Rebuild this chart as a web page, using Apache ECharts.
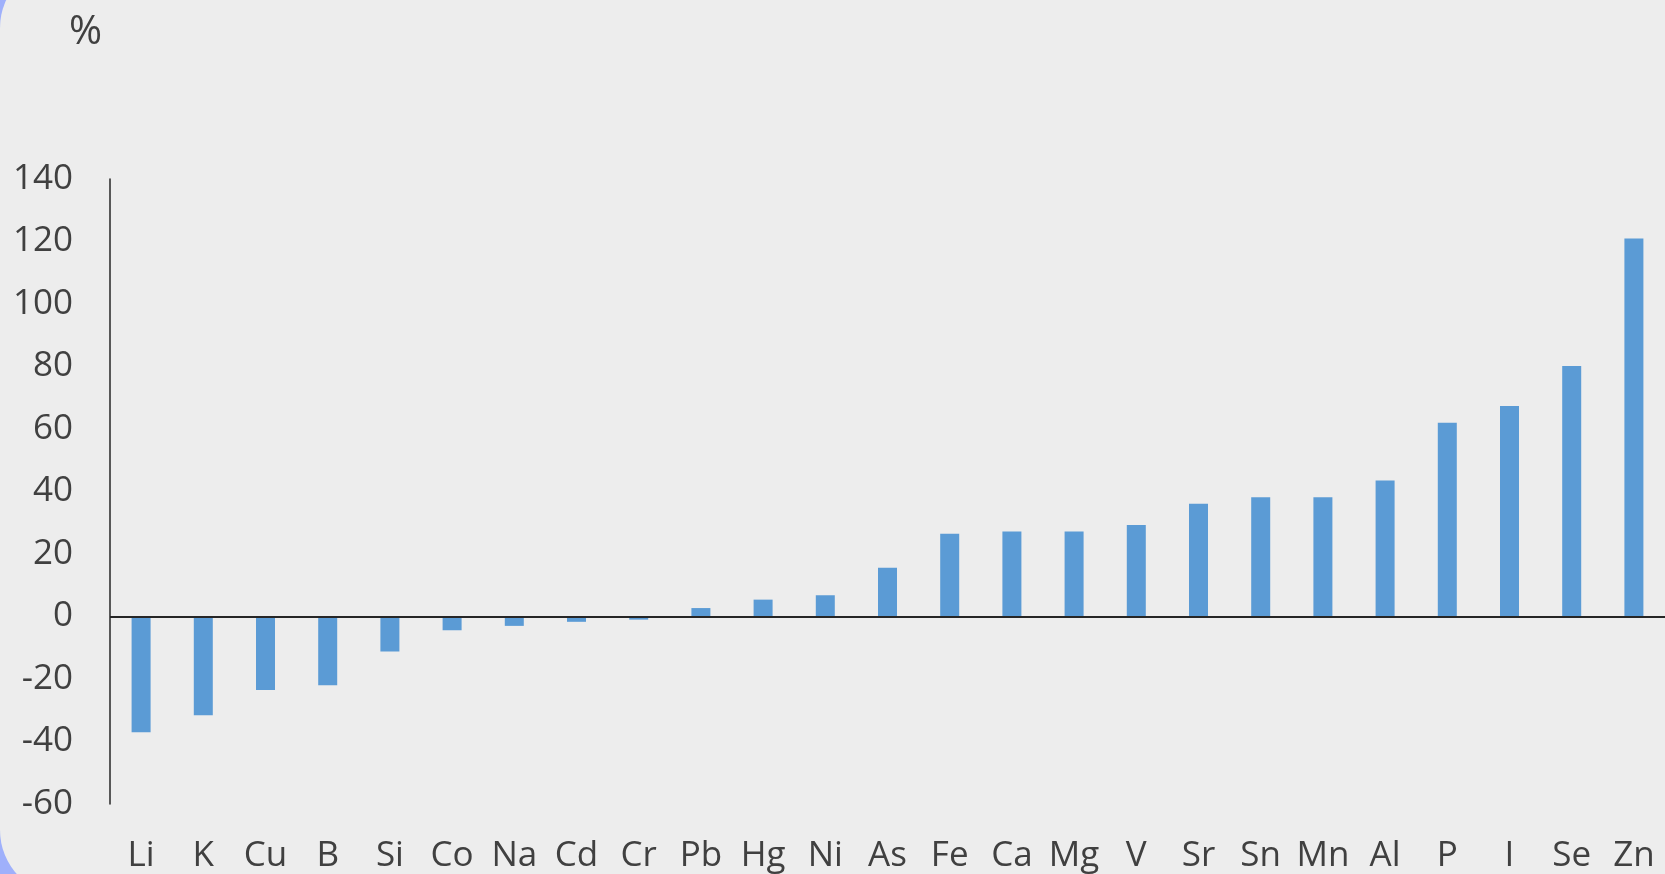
<!DOCTYPE html>
<html>
<head>
<meta charset="utf-8">
<script src="https://cdn.jsdelivr.net/npm/echarts@6/dist/echarts.min.js"></script>
<style>
  html, body { margin: 0; padding: 0; width: 1665px; height: 874px; overflow: hidden; background: #9fb0fb; }
  #card { position: absolute; left: 0; top: -38px; width: 1800px; height: 934px; border-radius: 66px; background: #ededed; }
  #chart { position: absolute; left: 0; top: 0; width: 1665px; height: 874px; }
</style>
</head>
<body>
<div id="card"></div>
<div id="chart"></div>
<script>
const categories = ['Li','K','Cu','B','Si','Co','Na','Cd','Cr','Pb','Hg','Ni','As','Fe','Ca','Mg','V','Sr','Sn','Mn','Al','P','I','Se','Zn'];
const values = [-37, -31.6, -23.5, -22, -11.2, -4.4, -3, -1.7, -1, 2.7, 5.4, 6.8, 15.6, 26.5, 27.2, 27.2, 29.3, 36.1, 38.2, 38.2, 43.5, 62, 67.4, 80.2, 121];
const yTicks = { min: -60, max: 140, interval: 20 };
const unitLabel = '%';

const FONT = '"Open Sans", sans-serif';
const chart = echarts.init(document.getElementById('chart'));
chart.setOption({
  backgroundColor: 'transparent',
  animation: false,
  title: {
    text: unitLabel, left: 64, top: 8,
    textStyle: { fontFamily: FONT, fontSize: 40, fontWeight: 'normal', color: '#404040' }
  },
  grid: { left: 110, right: -5, top: 179, bottom: 69, containLabel: false },
  xAxis: {
    type: 'category',
    data: categories,
    axisLine: { show: false, onZero: false },
    axisTick: { show: false },
    axisLabel: { interval: 0, margin: 35, fontFamily: FONT, fontSize: 35, color: '#404040' }
  },
  yAxis: {
    type: 'value',
    min: yTicks.min, max: yTicks.max, interval: yTicks.interval,
    axisLine: { show: true, lineStyle: { color: '#262626', width: 1.5 } },
    axisTick: { show: false },
    splitLine: { show: false },
    axisLabel: { margin: 37, fontFamily: FONT, fontSize: 35, color: '#404040' }
  },
  series: [{
    type: 'bar',
    data: values,
    barWidth: 19,
    itemStyle: { color: '#5b9bd5' },
    markLine: {
      silent: true, symbol: 'none', label: { show: false },
      lineStyle: { color: '#262626', width: 2, type: 'solid' },
      data: [{ yAxis: 0 }]
    }
  }]
});
</script>
</body>
</html>
